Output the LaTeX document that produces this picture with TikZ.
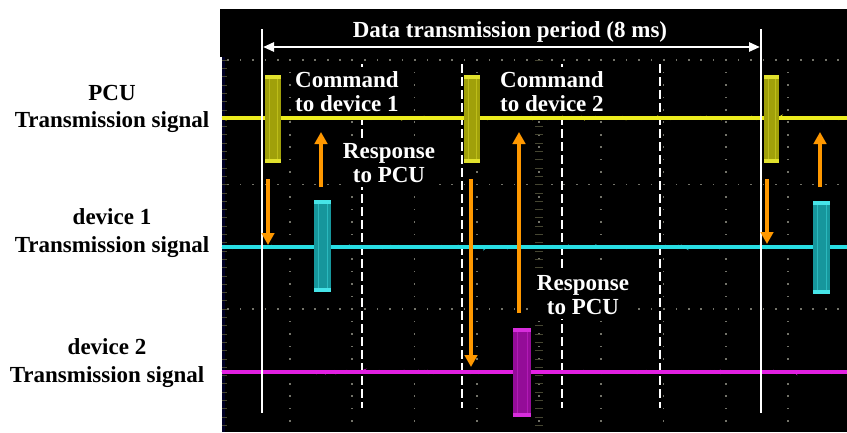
\documentclass[tikz,border=0pt]{standalone}
\usepackage{fontspec}
\setmainfont{Liberation Serif}
\usetikzlibrary{arrows.meta,decorations.pathmorphing}
\definecolor{sigY}{RGB}{236,236,30}
\definecolor{sigYfill}{RGB}{160,160,10}
\definecolor{sigYedge}{RGB}{225,225,45}
\definecolor{sigC}{RGB}{40,222,228}
\definecolor{sigCfill}{RGB}{22,150,156}
\definecolor{sigCedge}{RGB}{70,228,232}
\definecolor{sigM}{RGB}{226,32,226}
\definecolor{sigMfill}{RGB}{148,12,152}
\definecolor{sigMedge}{RGB}{215,45,220}
\definecolor{orng}{RGB}{255,152,0}
\definecolor{griddot}{RGB}{115,115,105}
\definecolor{axistick}{RGB}{70,70,50}
\newcommand\sigburst[6]{%
  \fill[#5] (#1,#2) rectangle (#3,#4);
  \fill[#6] (#1,#2) rectangle (#3,#2+4);
  \fill[#6] (#1,#4-4) rectangle (#3,#4);
  \draw[#6, opacity=0.45, line width=0.8pt] (#1+4,#2+4) -- (#1+4,#4-4);
  \draw[#6, opacity=0.45, line width=0.8pt] (#3-4,#2+4) -- (#3-4,#4-4);
}
\begin{document}
\begin{tikzpicture}[x=1pt,y=-1pt,
  lbl/.style={font=\fontsize{23}{27.5}\selectfont\bfseries, align=center, inner sep=0pt},
  slbl/.style={font=\fontsize{23}{24}\selectfont\bfseries, text=white, fill=black, inner xsep=2pt, inner ysep=5pt},
  tlbl/.style={font=\fontsize{23}{27}\selectfont\bfseries, text=white, inner sep=0pt},
  oarrow/.style={draw=orng, line width=3.4pt, -{Triangle[length=12pt,width=12.5pt]}},
  darrow/.style={draw=white, line width=2.6pt, {Triangle[length=11pt,width=9pt]}-{Triangle[length=11pt,width=9pt]}},
  wline/.style={draw=white, line width=2.4pt},
  dline/.style={draw=white, line width=2pt, dash pattern=on 9pt off 4pt},
  noisy/.style={decorate, decoration={random steps, segment length=1.6pt, amplitude=1.1pt}}
]
\useasboundingbox (0,0) rectangle (847,432);
\fill[white] (0,0) rectangle (847,432);
% screen
\fill[black] (220,9) rectangle (847,57);
\fill[black] (222,57) rectangle (847,432);
\fill[black!85!blue] (222,57) rectangle (224.5,432);
% left edge ticks
\foreach \j in {0,...,45} {\draw[axistick, line width=0.6pt] (222,60+\j*8.3) -- (227,60+\j*8.3);}
% grid dots
\foreach \yy in {60,184.5,309} {
  \foreach \i in {0,...,50} {\fill[griddot] (227.3+\i*12.45,\yy-0.8) rectangle ++(1.6,1.6);}
}
\foreach \k in {1,...,9} {
  \foreach \j in {0,...,30} {\fill[griddot] (227.75+\k*62.25-0.8,60+\j*12.45-0.8) rectangle ++(1.6,1.6);}
}
% centre axis ticks
\foreach \j in {0,...,45} {\draw[axistick, line width=0.6pt] (535,60+\j*8.3) -- (543,60+\j*8.3);}
% dashed markers
\draw[dline] (362,64) -- (362,408);
\draw[dline] (462,64) -- (462,408);
\draw[dline] (562,64) -- (562,408);
\draw[dline] (660,64) -- (660,408);
% labels inside the screen
\node[slbl, anchor=north west, align=left] (cmd1) at (293,66.3) {Command\\to device 1};
\node[slbl, anchor=north west, align=left] (cmd2) at (498,66.3) {Command\\to device 2};
\node[slbl, anchor=north, align=center] (resp1) at (389,137.8) {Response\\to PCU};
\node[slbl, anchor=north, align=center] (resp2) at (583,269.8) {Response\\to PCU};
% signal traces
\draw[sigY, line width=3.6pt] (222,118) -- (847,118);
\draw[sigY, line width=1.6pt, noisy] (222,118) -- (847,118);
\draw[sigC, line width=3.6pt] (222,247) -- (847,247);
\draw[sigC, line width=1.6pt, noisy] (222,247) -- (847,247);
\draw[sigM, line width=3.6pt] (222,372) -- (847,372);
\draw[sigM, line width=1.6pt, noisy] (222,372) -- (847,372);
% bursts
\sigburst{265}{75}{281}{163}{sigYfill}{sigYedge}
\sigburst{464}{75}{480}{163}{sigYfill}{sigYedge}
\sigburst{764}{75}{779}{163}{sigYfill}{sigYedge}
\sigburst{314}{200}{331}{292}{sigCfill}{sigCedge}
\sigburst{813}{201}{830}{294}{sigCfill}{sigCedge}
\sigburst{513}{328}{531}{417}{sigMfill}{sigMedge}
% period markers
\coordinate (pL) at (262,29);
\coordinate (pLb) at (262,413);
\coordinate (pR) at (761,29);
\coordinate (pRb) at (761,413);
\draw[wline] (pL) -- (pLb);
\draw[wline] (pR) -- (pRb);
\coordinate (aL) at (263,47);
\coordinate (aR) at (760,47);
\draw[darrow] (aL) -- (aR);
\node[tlbl, anchor=base] (title) at (510,37) {Data transmission period (8 ms)};
% orange arrows
\coordinate (o1s) at (268,179); \coordinate (o1e) at (268,245);
\coordinate (o2s) at (321,187); \coordinate (o2e) at (321,132);
\coordinate (o3s) at (471,179); \coordinate (o3e) at (471,367);
\coordinate (o4s) at (519,313); \coordinate (o4e) at (519,132);
\coordinate (o5s) at (767,179); \coordinate (o5e) at (767,244);
\coordinate (o6s) at (820,187); \coordinate (o6e) at (820,132);
\draw[oarrow] (o1s) -- (o1e);
\draw[oarrow] (o2s) -- (o2e);
\draw[oarrow] (o3s) -- (o3e);
\draw[oarrow] (o4s) -- (o4e);
\draw[oarrow] (o5s) -- (o5e);
\draw[oarrow] (o6s) -- (o6e);
% left labels
\node[lbl, anchor=north] (pcu) at (112,84.8) {PCU\\Transmission signal};
\node[lbl, anchor=north] (dev1) at (112,208.4) {device 1\\Transmission signal};
\node[lbl, anchor=north] (dev2) at (107,338.4) {device 2\\Transmission signal};
\end{tikzpicture}
\end{document}
